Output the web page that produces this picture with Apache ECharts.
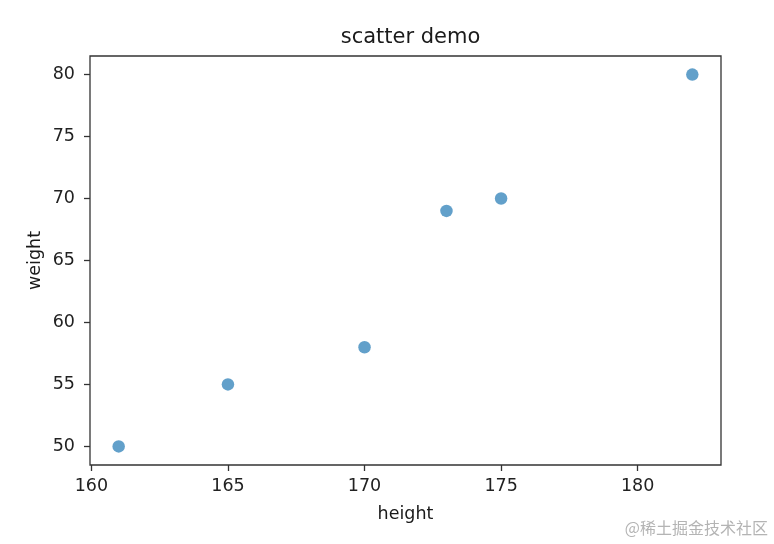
<!DOCTYPE html>
<html>
<head>
<meta charset="utf-8">
<script src="https://cdn.jsdelivr.net/npm/echarts@6/dist/echarts.min.js"></script>
<style>html,body{margin:0;padding:0;background:#fff}#chart{width:774px;height:544px}</style>
</head>
<body>
<div id="chart"></div>
<script>
const heights = [161, 165, 170, 173, 175, 182];
const weights = [50, 55, 58, 69, 70, 80];
const xTicks = [160, 165, 170, 175, 180];
const yTicks = [50, 55, 60, 65, 70, 75, 80];
const xRange = [159.95, 183.05];
const yRange = [48.5, 81.5];

const points = heights.map((h, i) => [h, weights[i]]);
const font = 'DejaVu Sans';
const chart = echarts.init(document.getElementById('chart'), null, {renderer: 'canvas'});
chart.setOption({
  animation: false,
  backgroundColor: '#fff',
  title: {
    text: 'scatter demo',
    left: 405.5, top: 22, textAlign: 'center',
    textStyle: {fontFamily: font, fontSize: 21, fontWeight: 'normal', color: '#1a1a1a'}
  },
  graphic: [{
    type: 'text', right: 6, top: 520,
    style: {text: '@稀土掘金技术社区', fontSize: 16, fill: '#b4b4b4', fontFamily: 'Noto Sans CJK SC'}
  }],
  grid: {left: 90, right: 53, top: 56, bottom: 79, show: true, borderColor: '#333', borderWidth: 1.3, backgroundColor: 'transparent'},
  xAxis: {
    type: 'value', min: xRange[0], max: xRange[1],
    name: 'height', nameLocation: 'middle', nameGap: 40,
    nameTextStyle: {fontFamily: font, fontSize: 17.5, color: '#1a1a1a'},
    axisLine: {show: false},
    splitLine: {show: false},
    axisTick: {show: true, length: 6, customValues: xTicks, lineStyle: {color: '#333', width: 1.3}},
    axisLabel: {customValues: xTicks, margin: 12, fontFamily: font, fontSize: 17.5, color: '#222'}
  },
  yAxis: {
    type: 'value', min: yRange[0], max: yRange[1],
    name: 'weight', nameLocation: 'middle', nameGap: 46, nameMoveOverlap: false,
    nameTextStyle: {fontFamily: font, fontSize: 17.5, color: '#1a1a1a'},
    axisLine: {show: false},
    splitLine: {show: false},
    axisTick: {show: true, length: 6, customValues: yTicks, lineStyle: {color: '#333', width: 1.3}},
    axisLabel: {customValues: yTicks, margin: 15, fontFamily: font, fontSize: 17.5, color: '#222'}
  },
  series: [{
    type: 'scatter', data: points, symbolSize: 12.5,
    itemStyle: {color: '#1f77b4', opacity: 0.7}
  }]
});
</script>
</body>
</html>
